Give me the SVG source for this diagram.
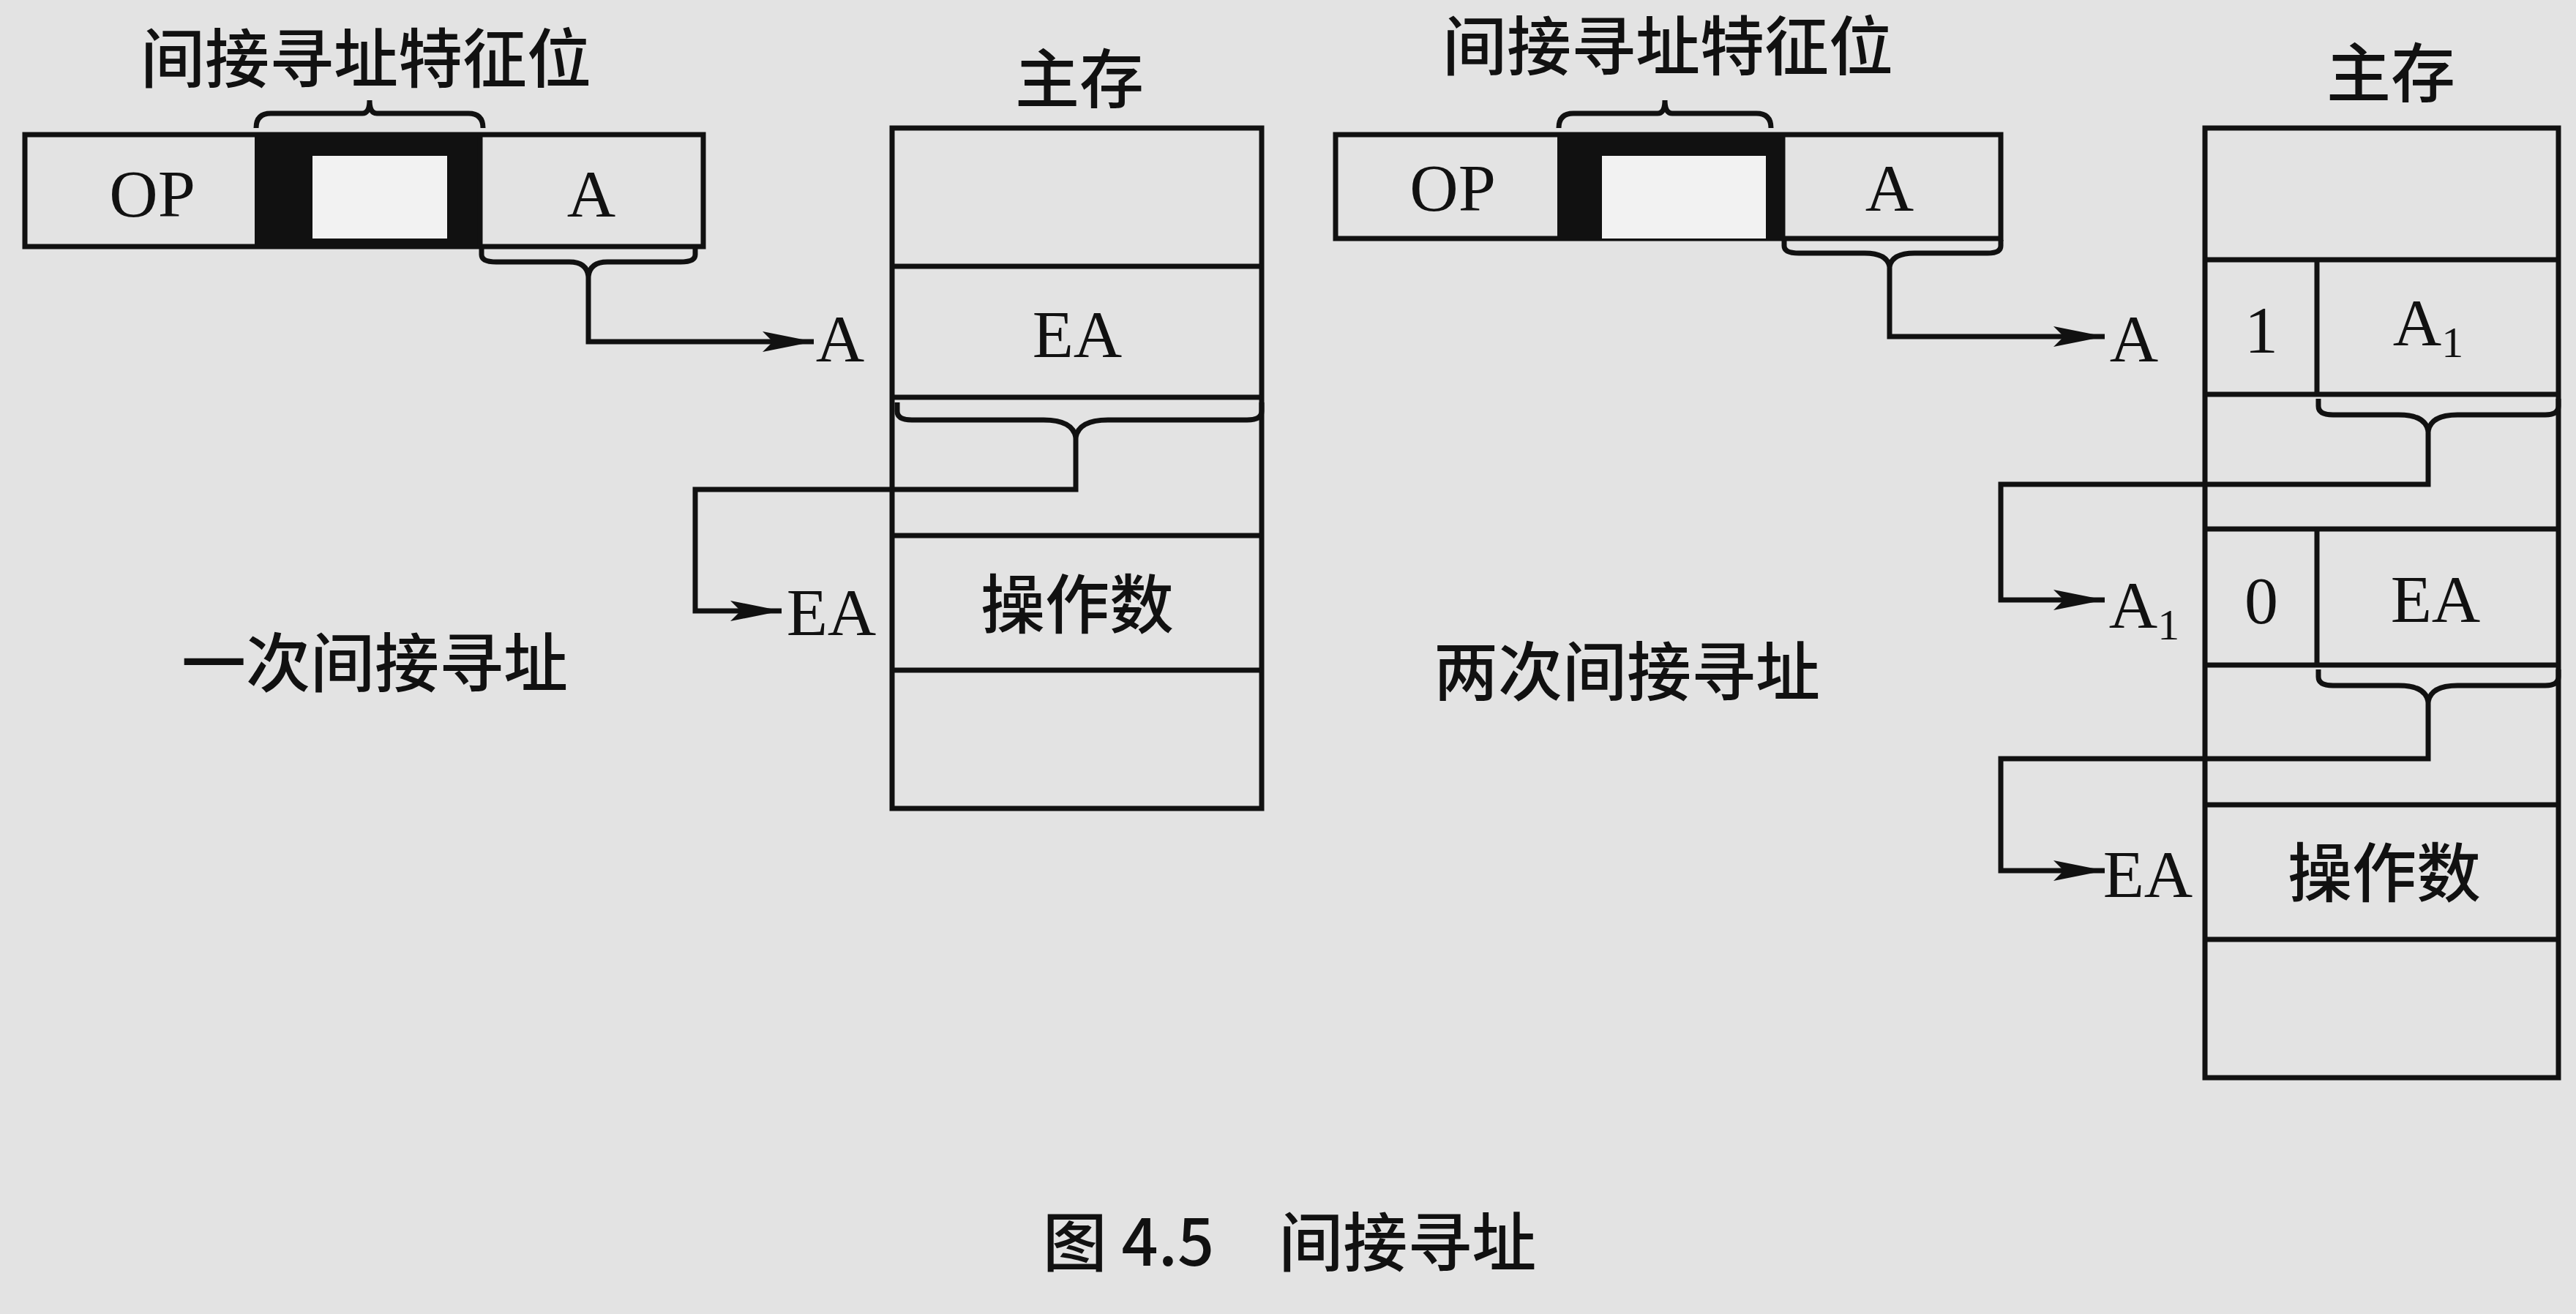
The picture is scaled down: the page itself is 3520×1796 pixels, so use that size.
<svg xmlns="http://www.w3.org/2000/svg" width="3520" height="1796" viewBox="0 0 3520 1796">
<style>
.b{fill:none;stroke:#111;stroke-width:7}
.t{font-family:"Liberation Serif","Noto Sans CJK SC",serif;fill:#111;text-anchor:middle;font-size:92px}
.c{font-family:"Noto Sans CJK SC",sans-serif;fill:#111;text-anchor:middle;font-size:88px;font-weight:500}
</style>
<defs>
<marker id="a" viewBox="0 0 70 28" refX="70" refY="14" markerWidth="70" markerHeight="28" markerUnits="userSpaceOnUse" orient="auto"><path d="M0,0L70,14L0,28L14,14z" fill="#111"/></marker></defs>
<rect width="3520" height="1796" fill="#e3e3e3"/>
<g id="left-instr">
<rect class="b" x="34" y="184" width="927" height="153" fill="#e6e6e6"/>
<rect x="348" y="184" width="308" height="153" fill="#111"/>
<rect x="427" y="213" width="184" height="113" fill="#f2f2f2"/>
<line class="b" x1="656" y1="184" x2="656" y2="337"/>
<text class="t" x="208" y="296">OP</text>
<text class="t" x="808" y="296">A</text>
<path class="b" d="M350,175 q0,-20 20,-20 h125 q10,0 10,-18 q0,18 10,18 h125 q20,0 20,20"/>
<text class="c" x="500" y="112">间接寻址特征位</text>
</g>
<g id="left-mem">
<rect class="b" x="1219" y="175" width="505" height="930" fill="#e6e6e6"/>
<line class="b" x1="1219" y1="364" x2="1724" y2="364"/>
<line class="b" x1="1219" y1="543" x2="1724" y2="543"/>
<line class="b" x1="1219" y1="732" x2="1724" y2="732"/>
<line class="b" x1="1219" y1="916" x2="1724" y2="916"/>
<text class="c" x="1475" y="140">主存</text>
<text class="t" x="1472" y="488">EA</text>
<text class="c" x="1472" y="858">操作数</text>
<text class="t" x="1148" y="494">A</text>
<text class="t" x="1136" y="868">EA</text>
<text class="c" x="512" y="938">一次间接寻址</text>
</g>
<g id="right-instr">
<rect class="b" x="1825" y="184" width="909" height="142" fill="#e6e6e6"/>
<rect x="2128" y="184" width="308" height="142" fill="#111"/>
<rect x="2189" y="213" width="224" height="113" fill="#f2f2f2"/>
<line class="b" x1="2436" y1="184" x2="2436" y2="326"/>
<text class="t" x="1985" y="288">OP</text>
<text class="t" x="2582" y="288">A</text>
<path class="b" d="M2130,175 q0,-20 20,-20 h115 q10,0 10,-18 q0,18 10,18 h115 q20,0 20,20"/>
<text class="c" x="2279" y="95">间接寻址特征位</text>
</g>
<g id="right-mem">
<rect class="b" x="3013" y="175" width="483" height="1298" fill="#e6e6e6"/>
<line class="b" x1="3013" y1="355" x2="3496" y2="355"/>
<line class="b" x1="3013" y1="539" x2="3496" y2="539"/>
<line class="b" x1="3013" y1="723" x2="3496" y2="723"/>
<line class="b" x1="3013" y1="909" x2="3496" y2="909"/>
<line class="b" x1="3013" y1="1100" x2="3496" y2="1100"/>
<line class="b" x1="3013" y1="1284" x2="3496" y2="1284"/>
<line class="b" x1="3166" y1="355" x2="3166" y2="539"/>
<line class="b" x1="3166" y1="723" x2="3166" y2="909"/>
<text class="c" x="3267" y="132">主存</text>
<text class="t" x="3090" y="482">1</text>
<text class="t" x="3318" y="472">A<tspan font-size="60" dy="16">1</tspan></text>
<text class="t" x="3090" y="852">0</text>
<text class="t" x="3328" y="850">EA</text>
<text class="c" x="3258" y="1225">操作数</text>
<text class="t" x="2916" y="494">A</text>
<text class="t" x="2930" y="858">A<tspan font-size="60" dy="16">1</tspan></text>
<text class="t" x="2935" y="1226">EA</text>
<text class="c" x="2223" y="950">两次间接寻址</text>
</g>
<g id="connectors">
<path class="b" d="M658,340 v8 q0,10 20,10 h100 q24,0 26,20 q2,-20 26,-20 h100 q20,0 20,-10 v-8"/>
<path class="b" d="M804,378 V467 H1112" marker-end="url(#a)"/>
<path class="b" d="M1226,550 v12 q0,12 20,12 h180 q40,0 44,24 q4,-24 44,-24 h190 q20,0 20,-12 v-12"/>
<path class="b" d="M1470,598 V669 H950 V835 H1068" marker-end="url(#a)"/>
<path class="b" d="M2438,328 v8 q0,10 20,10 h90 q30,0 34,18 q4,-18 34,-18 h100 q18,0 18,-10 v-8"/>
<path class="b" d="M2582,364 V460 H2876" marker-end="url(#a)"/>
<path class="b" d="M3168,545 v10 q0,12 20,12 h90 q36,0 40,22 q4,-22 40,-22 h120 q18,0 18,-12 v-10"/>
<path class="b" d="M3318,589 V662 H2734 V820 H2876" marker-end="url(#a)"/>
<path class="b" d="M3168,915 v10 q0,12 20,12 h90 q36,0 40,22 q4,-22 40,-22 h120 q18,0 18,-12 v-10"/>
<path class="b" d="M3318,959 V1037 H2734 V1190 H2876" marker-end="url(#a)"/>
</g>
<text class="c" x="1762" y="1730" font-size="125">图 4.5　间接寻址</text>
</svg>
